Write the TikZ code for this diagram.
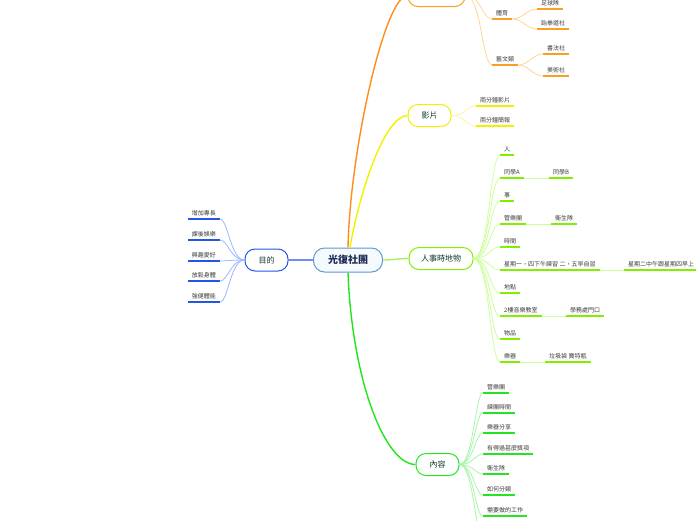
\documentclass[tikz,border=0pt]{standalone}
\usepackage{fontspec}
\setmainfont{Noto Sans CJK TC}

\definecolor{rootline}{HTML}{5B9BD5}
\definecolor{rootfill}{HTML}{F5FAFF}
\definecolor{rootink}{HTML}{1B2A55}
\definecolor{topicink}{HTML}{103A2C}
\definecolor{leafink}{HTML}{3A3A3A}
\definecolor{aimblue}{HTML}{2456E6}
\definecolor{aimpale}{HTML}{9DB6FF}
\definecolor{aimtrunk}{HTML}{6F8FF0}
\definecolor{kindorange}{HTML}{F7A024}
\definecolor{kindpale}{HTML}{FFD598}
\definecolor{kindtrunk}{HTML}{FF8C1A}
\definecolor{filmyellow}{HTML}{F0F000}
\definecolor{filmpale}{HTML}{F6F6A0}
\definecolor{filmtrunk}{HTML}{F2F200}
\definecolor{whogreen}{HTML}{80F000}
\definecolor{whopale}{HTML}{CCFF99}
\definecolor{whotrunk}{HTML}{A8F060}
\definecolor{tellgreen}{HTML}{22E622}
\definecolor{tellpale}{HTML}{A8F5A8}
\definecolor{telltrunk}{HTML}{1EE61E}

\tikzset{
  root/.style={draw=rootline, fill=rootfill, rounded corners=11pt, minimum width=69pt,
    minimum height=24pt, line width=1pt, text=rootink, font=\fontsize{10}{12}\selectfont\bfseries},
  topic/.style={draw=#1, fill=white, rounded corners=10pt, minimum width=43pt, minimum height=22pt,
    inner xsep=12pt, line width=1pt, text=topicink, font=\fontsize{8}{10}\selectfont},
  leaf/.style={inner xsep=4pt, inner ysep=3pt, anchor=south west, text=leafink,
    font=\fontsize{6}{7}\selectfont,
    append after command={(\tikzlastnode.south west) edge[draw=#1, line width=1.8pt] (\tikzlastnode.south east)}},
  leafl/.style={leaf=#1, anchor=south east},
  trunk/.style={draw=#1, line width=1.4pt},
  twig/.style={draw=#1, line width=0.8pt},
}

\begin{document}
\begin{tikzpicture}[x=1pt,y=1pt]
\useasboundingbox (0,0) rectangle (696,-520);

%Centre
\node[root] (club) at (348,-260) {光復社團};

%Aim, left side
\node[topic=aimblue] (aim) at (266.5,-260) {目的};
\def\x{220}
\node[leafl=aimblue] (aim1) at (\x,-219) {增加專長};
\node[leafl=aimblue] (aim2) at (\x,-240) {課後娛樂};
\node[leafl=aimblue] (aim3) at (\x,-261) {興趣愛好};
\node[leafl=aimblue] (aim4) at (\x,-281) {放鬆身體};
\node[leafl=aimblue] (aim5) at (\x,-302) {強健體能};

\draw[trunk=aimtrunk] (club.west) -- (aim.east);
\draw[twig=aimpale] (aim.west) .. controls +(-14,0) and +(8,0) .. (aim1.south east);
\draw[twig=aimpale] (aim.west) .. controls +(-14,0) and +(8,0) .. (aim2.south east);
\draw[twig=aimpale] (aim.west) .. controls +(-14,0) and +(8,0) .. (aim3.south east);
\draw[twig=aimpale] (aim.west) .. controls +(-14,0) and +(8,0) .. (aim4.south east);
\draw[twig=aimpale] (aim.west) .. controls +(-14,0) and +(8,0) .. (aim5.south east);

%Kinds, cut off at the top
\node[topic=kindorange, minimum width=57pt] (kind) at (436.5,4.5) {};
\def\x{492}
\node[leaf=kindorange] (sport) at (\x,-19) {體育};
\node[leaf=kindorange] (ball) at (537,-9) {足球隊};
\node[leaf=kindorange] (kick) at (537,-29) {跆拳道社};
\node[leaf=kindorange] (art) at (\x,-65) {藝文類};
\node[leaf=kindorange] (brush) at (543,-54) {書法社};
\node[leaf=kindorange] (paint) at (543,-76) {美術社};

\draw[trunk=kindtrunk] (club.north) .. controls (350,-150) and (385,4.5) .. (kind.west);
\draw[twig=kindpale] (kind.east) .. controls +(16,0) and +(-10,0) .. (sport.south west);
\draw[twig=kindpale] (kind.east) .. controls +(16,0) and +(-10,0) .. (art.south west);
\draw[twig=kindpale] (sport.south east) .. controls +(10,0) and +(-10,0) .. (ball.south west);
\draw[twig=kindpale] (sport.south east) .. controls +(10,0) and +(-10,0) .. (kick.south west);
\draw[twig=kindpale] (art.south east) .. controls +(10,0) and +(-10,0) .. (brush.south west);
\draw[twig=kindpale] (art.south east) .. controls +(10,0) and +(-10,0) .. (paint.south west);

%Film
\node[topic=filmyellow] (film) at (429.5,-115.5) {影片};
\def\x{476}
\node[leaf=filmyellow] (film1) at (\x,-106) {兩分鐘影片};
\node[leaf=filmyellow] (film2) at (\x,-126) {兩分鐘簡報};

\draw[trunk=filmtrunk] ([xshift=2pt]club.north) .. controls (360,-190) and (385,-115.5) .. (film.west);
\draw[twig=filmpale] (film.east) .. controls +(14,0) and +(-10,0) .. (film1.south west);
\draw[twig=filmpale] (film.east) .. controls +(14,0) and +(-10,0) .. (film2.south west);

%Who, what, when, where
\node[topic=whogreen] (who) at (441,-258.5) {人事時地物};
\def\x{500}
\node[leaf=whogreen] (who1) at (\x,-155) {人};
\node[leaf=whogreen] (who2) at (\x,-178) {同學A};
\node[leaf=whogreen] (who2b) at (549,-178) {同學B};
\node[leaf=whogreen] (who3) at (\x,-201) {事};
\node[leaf=whogreen] (who4) at (\x,-224) {管樂團};
\node[leaf=whogreen] (who4b) at (551,-224) {衛生隊};
\node[leaf=whogreen] (who5) at (\x,-247) {時間};
\node[leaf=whogreen] (who6) at (\x,-270) {星期一，四下午練習 二，五早自習};
\node[leaf=whogreen] (who6b) at (624,-270) {星期二中午跟星期四早上};
\node[leaf=whogreen] (who7) at (\x,-293) {地點};
\node[leaf=whogreen] (who8) at (\x,-316) {2樓音樂教室};
\node[leaf=whogreen] (who8b) at (566,-316) {學務處門口};
\node[leaf=whogreen] (who9) at (\x,-339) {物品};
\node[leaf=whogreen] (who10) at (\x,-362) {樂器};
\node[leaf=whogreen] (who10b) at (545,-362) {垃圾袋 寶特瓶};

\draw[trunk=whotrunk] (club.east) .. controls +(10,0) and +(-10,0) .. (who.west);
\draw[twig=whopale] (who.east) .. controls +(16,0) and +(-10,0) .. (who1.south west);
\draw[twig=whopale] (who.east) .. controls +(16,0) and +(-10,0) .. (who2.south west);
\draw[twig=whopale] (who.east) .. controls +(16,0) and +(-10,0) .. (who3.south west);
\draw[twig=whopale] (who.east) .. controls +(16,0) and +(-10,0) .. (who4.south west);
\draw[twig=whopale] (who.east) .. controls +(16,0) and +(-10,0) .. (who5.south west);
\draw[twig=whopale] (who.east) .. controls +(16,0) and +(-10,0) .. (who6.south west);
\draw[twig=whopale] (who.east) .. controls +(16,0) and +(-10,0) .. (who7.south west);
\draw[twig=whopale] (who.east) .. controls +(16,0) and +(-10,0) .. (who8.south west);
\draw[twig=whopale] (who.east) .. controls +(16,0) and +(-10,0) .. (who9.south west);
\draw[twig=whopale] (who.east) .. controls +(16,0) and +(-10,0) .. (who10.south west);
\draw[twig=whopale] (who2.south east) -- (who2b.south west);
\draw[twig=whopale] (who4.south east) -- (who4b.south west);
\draw[twig=whopale] (who6.south east) -- (who6b.south west);
\draw[twig=whopale] (who8.south east) -- (who8b.south west);
\draw[twig=whopale] (who10.south east) -- (who10b.south west);

%Content
\node[topic=tellgreen] (tell) at (437.5,-464.5) {內容};
\def\x{483}
\node[leaf=tellgreen] (tell1) at (\x,-393) {管樂團};
\node[leaf=tellgreen] (tell2) at (\x,-413) {練團時間};
\node[leaf=tellgreen] (tell3) at (\x,-433) {樂器分享};
\node[leaf=tellgreen] (tell4) at (\x,-454) {有得過甚麼獎項};
\node[leaf=tellgreen] (tell5) at (\x,-474) {衛生隊};
\node[leaf=tellgreen] (tell6) at (\x,-495) {如何分類};
\node[leaf=tellgreen] (tell7) at (\x,-516) {需要做的工作};
\coordinate (tell8) at (\x,-537);

\draw[trunk=telltrunk] (club.south) .. controls (352,-380) and (385,-464.5) .. (tell.west);
\draw[twig=tellpale] (tell.east) .. controls +(14,0) and +(-8,0) .. (tell1.south west);
\draw[twig=tellpale] (tell.east) .. controls +(14,0) and +(-8,0) .. (tell2.south west);
\draw[twig=tellpale] (tell.east) .. controls +(14,0) and +(-8,0) .. (tell3.south west);
\draw[twig=tellpale] (tell.east) .. controls +(14,0) and +(-8,0) .. (tell4.south west);
\draw[twig=tellpale] (tell.east) .. controls +(14,0) and +(-8,0) .. (tell5.south west);
\draw[twig=tellpale] (tell.east) .. controls +(14,0) and +(-8,0) .. (tell6.south west);
\draw[twig=tellpale] (tell.east) .. controls +(14,0) and +(-8,0) .. (tell7.south west);
\draw[twig=tellpale] (tell.east) .. controls +(14,0) and +(-8,0) .. (tell8);
\end{tikzpicture}
\end{document}
